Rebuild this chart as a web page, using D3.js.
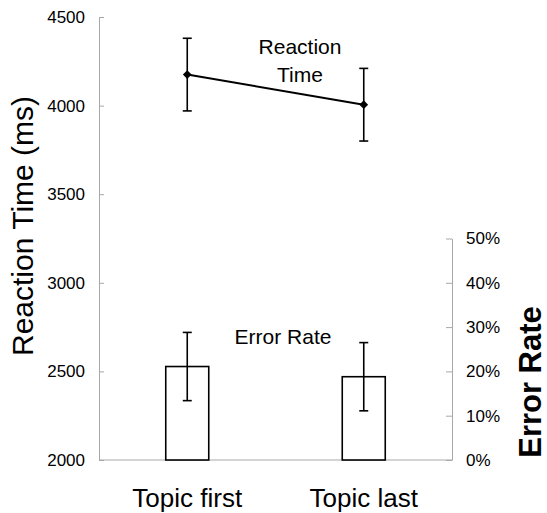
<!DOCTYPE html>
<html>
<head>
<meta charset="utf-8">
<script src="https://cdn.jsdelivr.net/npm/d3@7"></script>
<style>
  html, body { margin: 0; padding: 0; background: #fff; }
  svg { display: block; font-family: Arial, "Liberation Sans", sans-serif; }
  .axis path, .axis line { stroke: #a8a8a8; }
  .axis text { fill: #000; font-size: 17px; font-family: Arial, "Liberation Sans", sans-serif; }
</style>
</head>
<body>
<div id="chart"></div>
<script>
const categories = ["Topic first", "Topic last"];
const rtMeans = [4175, 4005];
const rtErrors = [205, 205];
const errMeans = [0.211, 0.188];
const errErrors = [0.077, 0.077];
const rtTicks = [2000, 2500, 3000, 3500, 4000, 4500];
const errTicks = [0, 0.1, 0.2, 0.3, 0.4, 0.5];

const width = 547, height = 513;
const plot = { left: 99, right: 452, top: 17, bottom: 460 };

const svg = d3.select("#chart")
    .append("svg")
    .attr("width", width)
    .attr("height", height);

const x = d3.scaleBand()
    .domain(categories)
    .range([plot.left, plot.right]);

const yRT = d3.scaleLinear()
    .domain([2000, 4500])
    .range([plot.bottom, plot.top]);

// error-rate scale: 0..100% over the full plot height
const yErr = d3.scaleLinear()
    .domain([0, 1])
    .range([plot.bottom, plot.top]);

// the right axis only shows the lower half (0..50%)
const yErrAxis = d3.scaleLinear()
    .domain([0, 0.5])
    .range([plot.bottom, yErr(0.5)]);

const cx = d => x(d) + x.bandwidth() / 2;

// left axis
svg.append("g")
    .attr("class", "axis")
    .attr("transform", `translate(${plot.left},0)`)
    .call(d3.axisLeft(yRT)
        .tickValues(rtTicks)
        .tickSizeInner(-5)
        .tickSizeOuter(0)
        .tickPadding(14)
        .tickFormat(d3.format("d")));

// right axis
svg.append("g")
    .attr("class", "axis")
    .attr("transform", `translate(${plot.right},0)`)
    .call(d3.axisRight(yErrAxis)
        .tickValues(errTicks)
        .tickSizeInner(-6)
        .tickSizeOuter(0)
        .tickPadding(14)
        .tickFormat(d3.format(".0%")));

// bottom baseline
svg.append("line")
    .attr("x1", plot.left)
    .attr("x2", plot.right)
    .attr("y1", plot.bottom)
    .attr("y2", plot.bottom)
    .attr("stroke", "#a8a8a8");

// category labels
svg.selectAll(".cat")
    .data(categories)
    .enter()
    .append("text")
    .attr("class", "cat")
    .attr("x", d => cx(d))
    .attr("y", 507)
    .attr("text-anchor", "middle")
    .style("font-size", "26px")
    .text(d => d);

// error rate bars
const barW = 43;
svg.selectAll(".bar")
    .data(categories)
    .enter()
    .append("rect")
    .attr("class", "bar")
    .attr("x", d => cx(d) - barW / 2)
    .attr("y", (d, i) => yErr(errMeans[i]))
    .attr("width", barW)
    .attr("height", (d, i) => plot.bottom - yErr(errMeans[i]))
    .attr("fill", "#fff")
    .attr("stroke", "#000")
    .attr("stroke-width", 1.6);

function errorBars(cls, means, errs, scale) {
    const g = svg.selectAll("." + cls)
        .data(categories)
        .enter()
        .append("g")
        .attr("class", cls)
        .attr("stroke", "#000")
        .attr("stroke-width", 1.6);
    g.append("line")
        .attr("x1", d => cx(d)).attr("x2", d => cx(d))
        .attr("y1", (d, i) => scale(means[i] + errs[i]))
        .attr("y2", (d, i) => scale(means[i] - errs[i]));
    g.append("line")
        .attr("x1", d => cx(d) - 4.5).attr("x2", d => cx(d) + 4.5)
        .attr("y1", (d, i) => scale(means[i] + errs[i]))
        .attr("y2", (d, i) => scale(means[i] + errs[i]));
    g.append("line")
        .attr("x1", d => cx(d) - 4.5).attr("x2", d => cx(d) + 4.5)
        .attr("y1", (d, i) => scale(means[i] - errs[i]))
        .attr("y2", (d, i) => scale(means[i] - errs[i]));
}

errorBars("err-er", errMeans, errErrors, yErr);
errorBars("err-rt", rtMeans, rtErrors, yRT);

// reaction time line
svg.append("path")
    .datum(categories)
    .attr("fill", "none")
    .attr("stroke", "#000")
    .attr("stroke-width", 2)
    .attr("d", d3.line()
        .x(d => cx(d))
        .y((d, i) => yRT(rtMeans[i])));

svg.selectAll(".marker")
    .data(categories)
    .enter()
    .append("path")
    .attr("class", "marker")
    .attr("d", d3.symbol(d3.symbolSquare, 38))
    .attr("transform", (d, i) => `translate(${cx(d)},${yRT(rtMeans[i])}) rotate(45)`)
    .attr("fill", "#000");

// series labels
svg.append("text")
    .attr("x", 300).attr("y", 54)
    .attr("text-anchor", "middle")
    .style("font-size", "21px")
    .text("Reaction");
svg.append("text")
    .attr("x", 300).attr("y", 82)
    .attr("text-anchor", "middle")
    .style("font-size", "21px")
    .text("Time");
svg.append("text")
    .attr("x", 283).attr("y", 344)
    .attr("text-anchor", "middle")
    .style("font-size", "21px")
    .text("Error Rate");

// axis titles
svg.append("text")
    .attr("transform", "translate(33,226) rotate(-90)")
    .attr("text-anchor", "middle")
    .style("font-size", "30px")
    .text("Reaction Time (ms)");

svg.append("text")
    .attr("transform", "translate(541,382) rotate(-90)")
    .attr("text-anchor", "middle")
    .style("font-size", "31px")
    .style("font-weight", "bold")
    .text("Error Rate");
</script>
</body>
</html>
